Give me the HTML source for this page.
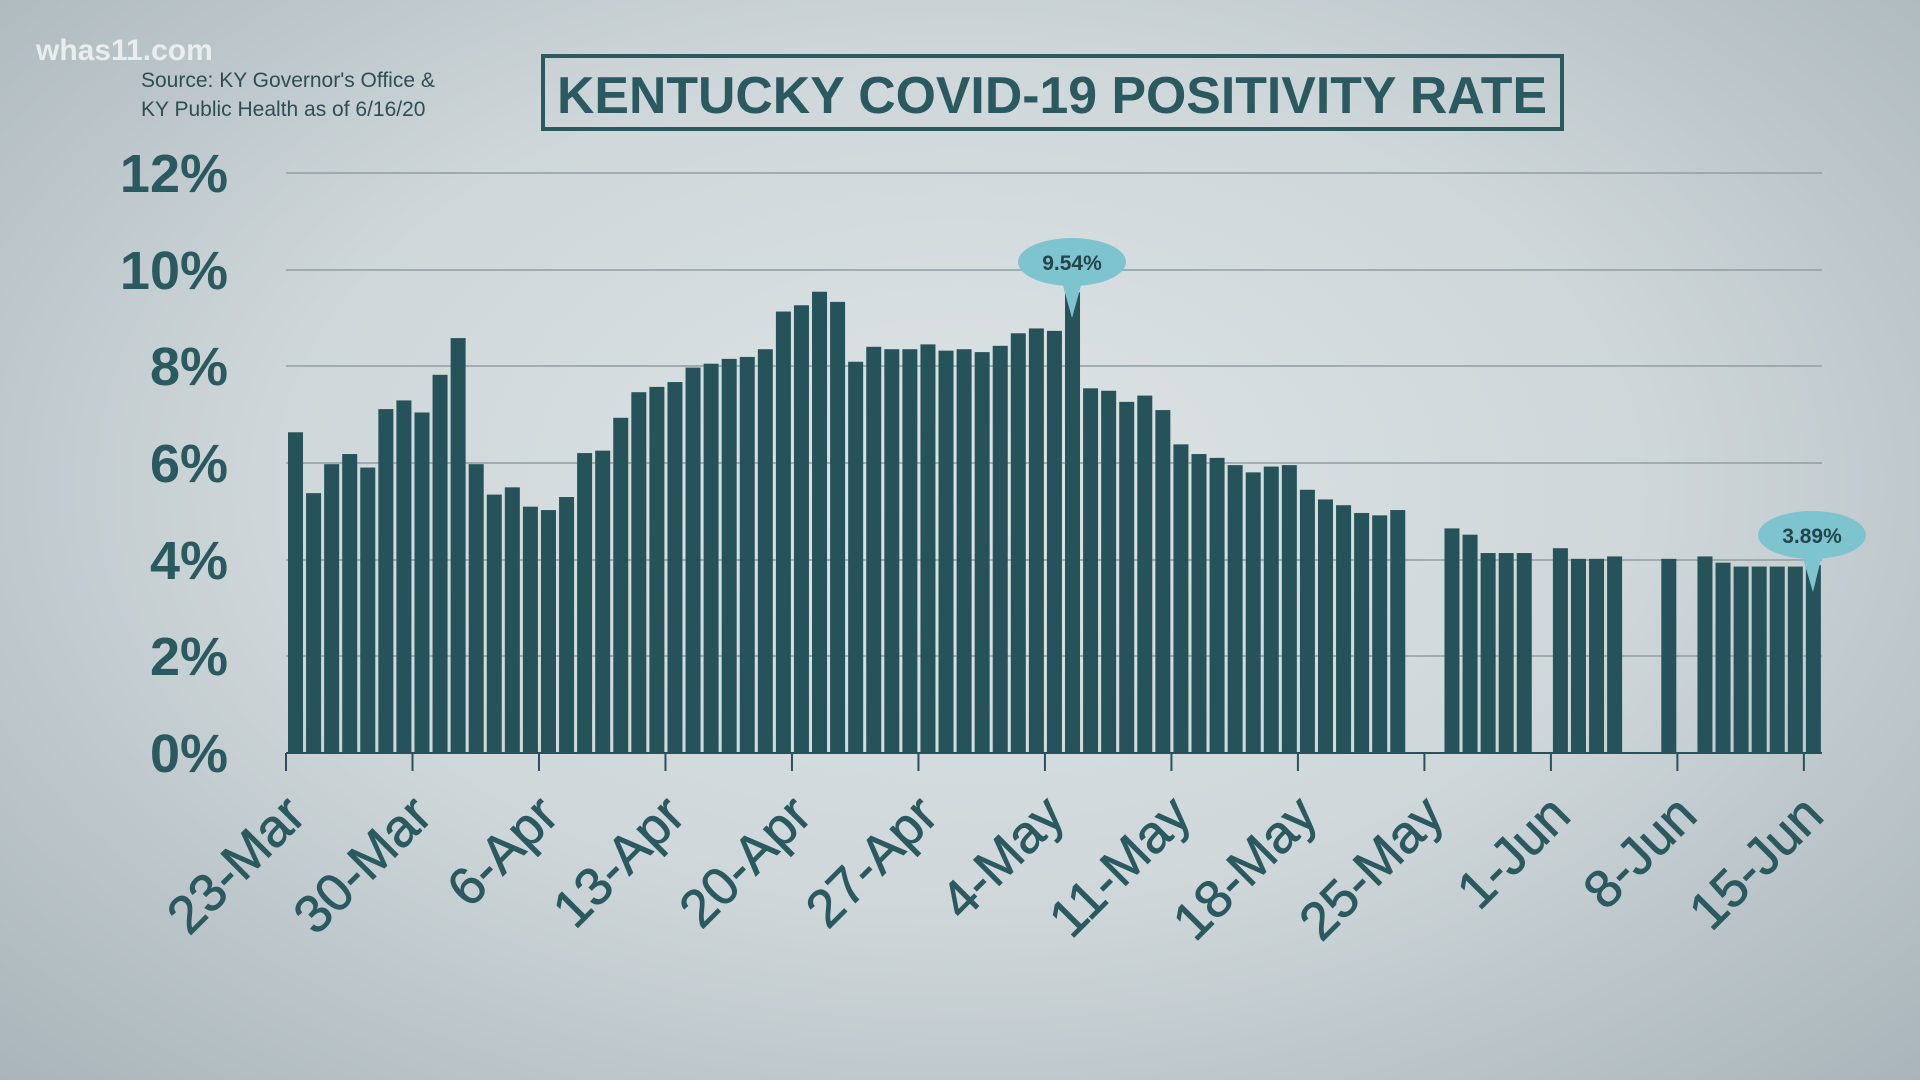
<!DOCTYPE html>
<html><head><meta charset="utf-8"><style>
html,body{margin:0;padding:0;width:1920px;height:1080px;overflow:hidden}
body{background:radial-gradient(ellipse at 50% 45%,#dde3e5 0%,#cfd7da 50%,#a9b5ba 100%)}
svg{position:absolute;left:0;top:0}
</style></head><body>
<svg width="1920" height="1080" xmlns="http://www.w3.org/2000/svg" font-family="Liberation Sans, sans-serif">
<text x="36" y="60" font-size="30" fill="#f2f5f6" font-weight="bold" opacity="0.85">whas11.com</text>
<text x="141" y="87" font-size="21" fill="#2e4e55">Source: KY Governor's Office &amp;</text>
<text x="141" y="116" font-size="21" fill="#2e4e55">KY Public Health as of 6/16/20</text>
<rect x="543" y="56" width="1019" height="73" fill="none" stroke="#2a5a60" stroke-width="4"/>
<text x="1052" y="113" font-size="52" font-weight="bold" fill="#2a5a60" text-anchor="middle" textLength="990" lengthAdjust="spacingAndGlyphs">KENTUCKY COVID-19 POSITIVITY RATE</text>
<g stroke="#8f9da2" stroke-width="1.5">
<line x1="286" x2="1822" y1="173" y2="173"/><line x1="286" x2="1822" y1="270" y2="270"/>
<line x1="286" x2="1822" y1="366" y2="366"/><line x1="286" x2="1822" y1="463" y2="463"/>
<line x1="286" x2="1822" y1="560" y2="560"/><line x1="286" x2="1822" y1="656" y2="656"/>
</g>
<g font-size="54" font-weight="bold" fill="#2a5a60" text-anchor="end">
<text x="228" y="192">12%</text><text x="228" y="289">10%</text><text x="228" y="385">8%</text>
<text x="228" y="482">6%</text><text x="228" y="579">4%</text><text x="228" y="675">2%</text><text x="228" y="772">0%</text>
</g>
<g id="bars" fill="#26535a"></g>
<line x1="286" x2="1822" y1="753" y2="753" stroke="#26535a" stroke-width="2"/>
<g id="ticks" stroke="#26535a" stroke-width="2"></g>
<g id="xl" font-size="53" fill="#2a5a60" text-anchor="end" stroke="#2a5a60" stroke-width="0.8"></g>
<g fill="#7ec4cf">
<ellipse cx="1072" cy="262" rx="54" ry="24"/><polygon points="1062,282 1082,282 1072,318"/>
<ellipse cx="1812" cy="535" rx="54" ry="24"/><polygon points="1802,555 1822,555 1813,592"/>
</g>
<text x="1072" y="270" font-size="21" font-weight="bold" fill="#23454b" text-anchor="middle">9.54%</text>
<text x="1812" y="543" font-size="21" font-weight="bold" fill="#23454b" text-anchor="middle">3.89%</text>
</svg>
<script>
var v=[6.64,5.38,5.98,6.19,5.91,7.12,7.30,7.05,7.83,8.59,5.98,5.35,5.5,5.1,5.03,5.3,6.21,6.26,6.94,7.47,7.58,7.68,7.98,8.06,8.16,8.2,8.36,9.14,9.27,9.55,9.34,8.1,8.41,8.36,8.36,8.46,8.33,8.36,8.3,8.43,8.69,8.79,8.74,9.54,7.55,7.5,7.27,7.4,7.1,6.39,6.19,6.11,5.96,5.81,5.93,5.96,5.45,5.25,5.13,4.97,4.92,5.03,0,0,4.65,4.52,4.14,4.14,4.14,0,4.24,4.02,4.02,4.07,0,0,4.02,0,4.07,3.94,3.86,3.86,3.86,3.86,3.89];
var ns="http://www.w3.org/2000/svg",x0=286,p=18.07,z=753,k=48.3;
var b=document.getElementById('bars');
v.forEach(function(d,i){if(!d)return;var r=document.createElementNS(ns,'rect');var h=d*k;
r.setAttribute('x',x0+i*p+2);r.setAttribute('width',15);r.setAttribute('y',z-h);r.setAttribute('height',h);b.appendChild(r);});
var L=['23-Mar','30-Mar','6-Apr','13-Apr','20-Apr','27-Apr','4-May','11-May','18-May','25-May','1-Jun','8-Jun','15-Jun'];
var t=document.getElementById('ticks'),xl=document.getElementById('xl');
L.forEach(function(s,j){var x=x0+j*7*p;var l=document.createElementNS(ns,'line');
l.setAttribute('x1',x);l.setAttribute('x2',x);l.setAttribute('y1',753);l.setAttribute('y2',771);t.appendChild(l);
var tx=document.createElementNS(ns,'text');tx.setAttribute('transform','translate('+(x+22)+',818) rotate(-45)');tx.textContent=s;xl.appendChild(tx);});
</script>
</body></html>
